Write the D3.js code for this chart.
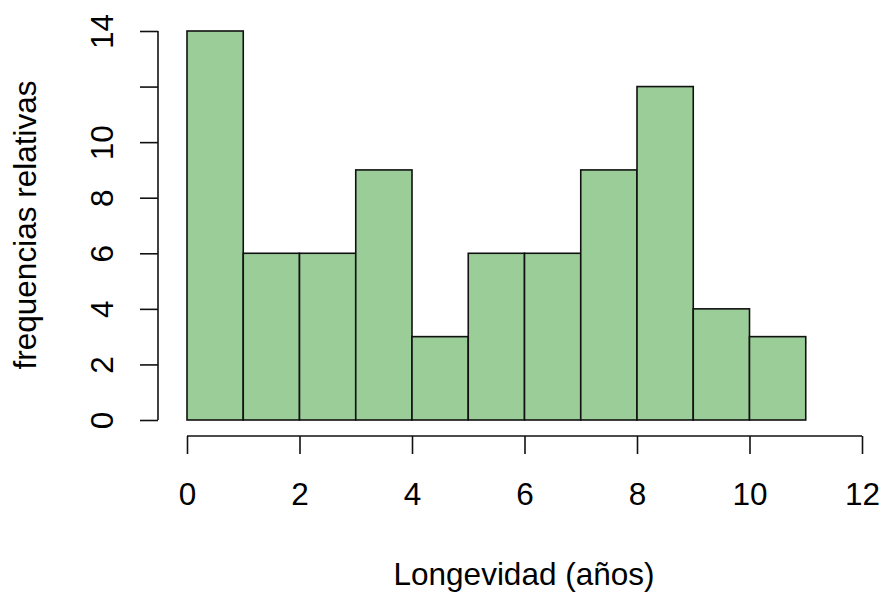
<!DOCTYPE html>
<html>
<head>
<meta charset="utf-8">
<script src="https://cdn.jsdelivr.net/npm/d3@7"></script>
<style>
  body { margin: 0; background: #fff; }
  text { font-family: "Liberation Sans", Arial, sans-serif; fill: #000; }
</style>
</head>
<body>
<div class="canvas"></div>
<script>
// histogram data: bin edges and counts
const binStarts = [0, 1, 2, 3, 4, 5, 6, 7, 8, 9, 10];
const binWidth = 1;
const counts = [14, 6, 6, 9, 3, 6, 6, 9, 12, 4, 3];
const xTicks = [0, 2, 4, 6, 8, 10, 12];
const yTicks = [0, 2, 4, 6, 8, 10, 12, 14];
const yTickLabels = ['0', '2', '4', '6', '8', '10', '', '14']; // R drops "12" (overlap)

const svg = d3.select('.canvas')
    .append('svg')
    .attr('width', 881)
    .attr('height', 592);

const x = d3.scaleLinear().domain([0, 12]).range([187, 862]);
const y = d3.scaleLinear().domain([0, 14]).range([420, 31]);

const fontSize = 31.5;

// bars
svg.append('g')
    .selectAll('rect')
    .data(counts)
    .enter()
    .append('rect')
    .attr('x', (d, i) => x(binStarts[i]))
    .attr('width', (d, i) => x(binStarts[i] + binWidth) - x(binStarts[i]))
    .attr('y', d => y(d))
    .attr('height', d => y(0) - y(d))
    .attr('fill', '#9bcd98')
    .attr('stroke', '#111')
    .attr('stroke-width', 1.6);

// x axis
const xAxis = d3.axisBottom(x).tickValues(xTicks).tickSize(18).tickPadding(32).tickSizeOuter(0);
const xAxisGroup = svg.append('g')
    .attr('transform', 'translate(0,436)')
    .call(xAxis);
xAxisGroup.select('.domain').attr('stroke', '#111').attr('stroke-width', 1.6)
    .attr('d', `M${x(0)},0H${x(12)}`);
xAxisGroup.selectAll('.tick line').attr('stroke', '#111').attr('stroke-width', 1.6);
xAxisGroup.selectAll('.tick text')
    .attr('font-size', fontSize)
    .attr('font-family', '"Liberation Sans", Arial, sans-serif')
    .attr('fill', '#000')
    .attr('dy', null)
    .attr('y', 69);

// y axis
const yAxis = d3.axisLeft(y).tickValues(yTicks).tickSize(18).tickSizeOuter(0)
    .tickFormat((d, i) => yTickLabels[i]);
const yAxisGroup = svg.append('g')
    .attr('transform', 'translate(158,0)')
    .call(yAxis);
yAxisGroup.select('.domain').attr('stroke', '#111').attr('stroke-width', 1.6)
    .attr('d', `M0,${y(0)}V${y(14)}`);
yAxisGroup.selectAll('.tick line').attr('stroke', '#111').attr('stroke-width', 1.6);
yAxisGroup.selectAll('.tick text')
    .attr('font-size', fontSize)
    .attr('font-family', '"Liberation Sans", Arial, sans-serif')
    .attr('fill', '#000')
    .attr('x', null)
    .attr('dy', null)
    .attr('text-anchor', 'middle')
    .attr('transform', 'translate(-45,0) rotate(-90)');

// axis titles
svg.append('text')
    .attr('x', 524)
    .attr('y', 585)
    .attr('text-anchor', 'middle')
    .attr('font-size', fontSize)
    .text('Longevidad (años)');

svg.append('text')
    .attr('transform', 'translate(36,225) rotate(-90)')
    .attr('text-anchor', 'middle')
    .attr('font-size', fontSize)
    .text('frequencias relativas');
</script>
</body>
</html>
